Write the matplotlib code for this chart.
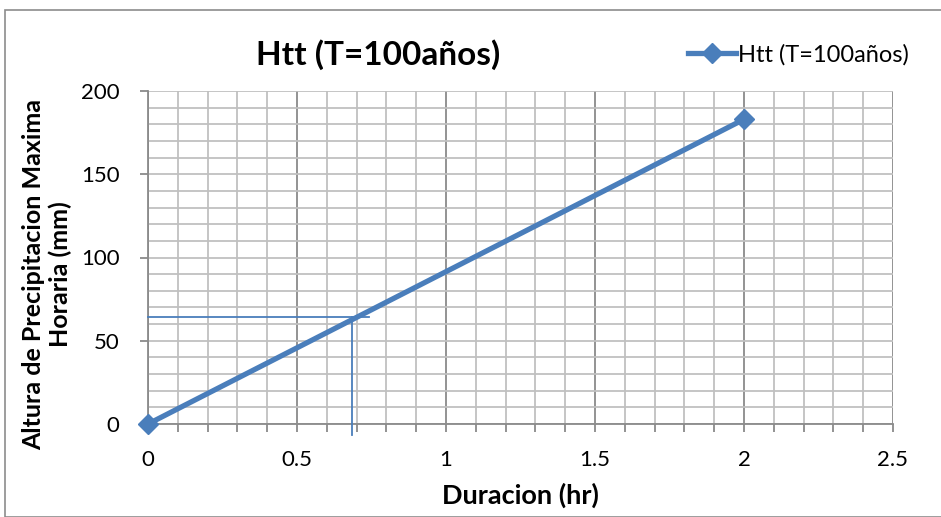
import matplotlib
matplotlib.use("Agg")
import matplotlib.pyplot as plt
from matplotlib.patches import Rectangle
from matplotlib.ticker import MultipleLocator

# data
duracion = [0, 2]
htt = [0, 183]
series_name = "Htt (T=100años)"
# lectura en la grafica
lectura_x = 0.685
lectura_y = 64.3
lectura_x_end = 0.74
lectura_y_end = -6.5

blue = "#4A7EBB"
plt.rcParams["font.family"] = ["Lato", "DejaVu Sans"]

fig = plt.figure(figsize=(9.41, 5.17), dpi=100)
ax = fig.add_axes([148 / 941, 1 - 424 / 517, 745 / 941, 333 / 517])

# chart frame
fig.patches.append(Rectangle((5 / 941, 0), 1, 1 - 10 / 517, transform=fig.transFigure,
                             fill=False, edgecolor="#8c8c8c", linewidth=1.2))

ax.set_xlim(0, 2.5)
ax.set_ylim(0, 200)
ax.xaxis.set_major_locator(MultipleLocator(0.5))
ax.xaxis.set_minor_locator(MultipleLocator(0.1))
ax.yaxis.set_major_locator(MultipleLocator(50))
ax.yaxis.set_minor_locator(MultipleLocator(10))
ax.grid(which="minor", axis="both", color="#c0c0c0", linewidth=1.3)
ax.grid(which="major", axis="y", color="#c0c0c0", linewidth=1.3)
ax.grid(which="major", axis="x", color="#8a8a8a", linewidth=1.3)
ax.set_axisbelow(True)
for s in ["top", "right"]:
    ax.spines[s].set_visible(False)
for s in ["left", "bottom"]:
    ax.spines[s].set_color("#8a8a8a")
    ax.spines[s].set_linewidth(1.3)
ax.tick_params(axis="x", which="both", length=5.5, color="#8a8a8a", width=1.3,
               labelsize=16, pad=13)
ax.tick_params(axis="y", which="major", length=5.5, color="#8a8a8a", width=1.3,
               labelsize=16, pad=15)
ax.tick_params(axis="y", which="minor", length=0)
ax.set_xticks([0, 0.5, 1, 1.5, 2, 2.5])
ax.set_xticklabels(["0", "0.5", "1", "1.5", "2", "2.5"])

ax.plot(duracion, htt, color=blue, linewidth=3.8, marker="D", markersize=10,
        label=series_name, zorder=4, clip_on=False)
ax.plot([0, lectura_x_end], [lectura_y, lectura_y], color=blue, linewidth=1.3,
        clip_on=False, zorder=3)
ax.plot([lectura_x, lectura_x], [lectura_y, lectura_y_end], color=blue,
        linewidth=1.3, clip_on=False, zorder=3)

ax.set_xlabel("Duracion (hr)", fontsize=19.5, fontweight="bold", labelpad=9)
fig.text(47 / 941, 1 - 274 / 517, "Altura de Precipitacion Maxima\nHoraria (mm)",
         rotation=90, ha="center", va="center", fontsize=18, fontweight="bold",
         linespacing=1.15)
fig.text(378 / 941, 1 - 55 / 517, series_name, ha="center", va="center",
         fontsize=24, fontweight="bold")
ax.legend(loc="center left", bbox_to_anchor=(679 / 941, 1 - 55 / 517),
          bbox_transform=fig.transFigure, frameon=False, fontsize=17,
          handlelength=2.0, handletextpad=0.1, borderaxespad=0)

fig.savefig("out.png", dpi=100)
